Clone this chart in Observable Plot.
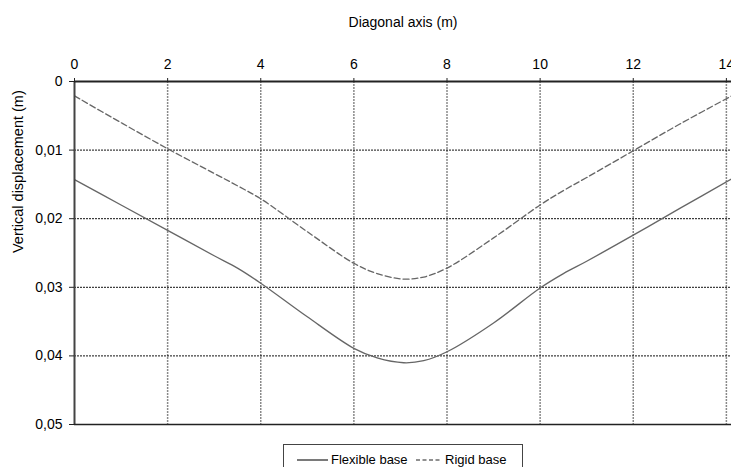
<!DOCTYPE html>
<html>
<head>
<meta charset="utf-8">
<script src="https://cdn.jsdelivr.net/npm/d3@7"></script>
<script src="https://cdn.jsdelivr.net/npm/@observablehq/plot@0.6"></script>
<style>
  body { margin: 0; background: #fff; font-family: "Liberation Sans", Arial, sans-serif; }
  #chart { position: relative; width: 731px; height: 467px; overflow: hidden; background: #fff; }
  #chart svg { display: block; }
  .legend { position: absolute; left: 283px; top: 444px; width: 240px; height: 40px;
            border: 1px solid #444; box-sizing: border-box; font-size: 13px; color: #000; }
  .legend .item { position: absolute; top: 7px; display: flex; align-items: center; white-space: nowrap; }
  .legend svg { display: inline-block; margin-right: 2px; }
</style>
</head>
<body>
<div id="chart"></div>
<script>
// Position along the slab diagonal (m)
const xs = [0, 1, 2, 3, 3.5, 4, 5, 6, 6.5, 7.07, 7.5, 8, 9, 10, 10.5, 11, 12, 13, 14.14];
// Vertical displacement (m), positive downwards
const flexible = [0.0143, 0.0180, 0.0217, 0.0254, 0.0272, 0.0294, 0.0343, 0.0389, 0.0403, 0.0410,
                  0.0407, 0.0394, 0.0352, 0.0301, 0.0280, 0.0262, 0.0224, 0.0185, 0.0141];
const rigid    = [0.0021, 0.0060, 0.0098, 0.0134, 0.0152, 0.0171, 0.0219, 0.0265, 0.0280, 0.0288,
                  0.0285, 0.0272, 0.0228, 0.0180, 0.0159, 0.0140, 0.0101, 0.0062, 0.0020];
const xTicks = [0, 2, 4, 6, 8, 10, 12, 14];
const yTicks = [0, 0.01, 0.02, 0.03, 0.04, 0.05];
const seriesNames = ["Flexible base", "Rigid base"];

const data = xs.map((x, i) => ({x, flexible: flexible[i], rigid: rigid[i]}));
const fmt = d => d === 0 ? "0" : d.toFixed(2).replace(".", ",");

const chart = Plot.plot({
  width: 731,
  height: 434,
  marginLeft: 74,
  marginRight: 0,
  marginTop: 81,
  marginBottom: 10,
  style: {fontFamily: "'Liberation Sans', Arial, sans-serif", fontSize: "14px", color: "#000", background: "#fff", overflow: "visible"},
  x: {domain: [0, 14.11], axis: null},
  y: {domain: [0, 0.05], reverse: true, axis: null},
  marks: [
    Plot.gridX(xTicks.filter(d => d > 0), {stroke: "#8a8a8a", strokeOpacity: 1, strokeWidth: 1.5, strokeDasharray: "2,1"}),
    Plot.gridY(yTicks.filter(d => d > 0 && d < 0.05), {stroke: "#111", strokeOpacity: 1, strokeWidth: 1, strokeDasharray: "2,1"}),
    Plot.line(data, {x: "x", y: "rigid", curve: "catmull-rom", stroke: "#666", strokeWidth: 1.3, strokeDasharray: "6,3", clip: true}),
    Plot.line(data, {x: "x", y: "flexible", curve: "catmull-rom", stroke: "#666", strokeWidth: 1.3, clip: true}),
    Plot.ruleX([0], {stroke: "#444", strokeWidth: 2}),
    Plot.ruleY([0], {stroke: "#222", strokeWidth: 2}),
    Plot.ruleY([0.05], {stroke: "#222", strokeWidth: 1.5}),
    Plot.axisX(xTicks, {anchor: "top", tickSize: 4, tickPadding: 9, label: null, stroke: "#222"}),
    Plot.axisY(yTicks, {anchor: "left", tickSize: 5, tickPadding: 7, tickFormat: fmt, label: null, stroke: "#222"}),
    Plot.text(["Diagonal axis (m)"], {frameAnchor: "top", dy: -64, fontSize: 14, fill: "#000"}),
    Plot.text(["Vertical displacement (m)"], {frameAnchor: "left", dx: -56, rotate: -90, fontSize: 14.5, fill: "#000"})
  ]
});

const root = document.getElementById("chart");
root.appendChild(chart);

// Legend box below the plot
const legend = document.createElement("div");
legend.className = "legend";
legend.innerHTML = `
  <div class="item" style="left:13px">
    <svg width="32" height="10"><line x1="0" y1="5" x2="31" y2="5" stroke="#222" stroke-width="1.2"/></svg>${seriesNames[0]}
  </div>
  <div class="item" style="left:132px">
    <svg width="27" height="10"><line x1="0" y1="5" x2="26" y2="5" stroke="#222" stroke-width="1.2" stroke-dasharray="4,2.5"/></svg>${seriesNames[1]}
  </div>`;
root.appendChild(legend);
</script>
</body>
</html>
